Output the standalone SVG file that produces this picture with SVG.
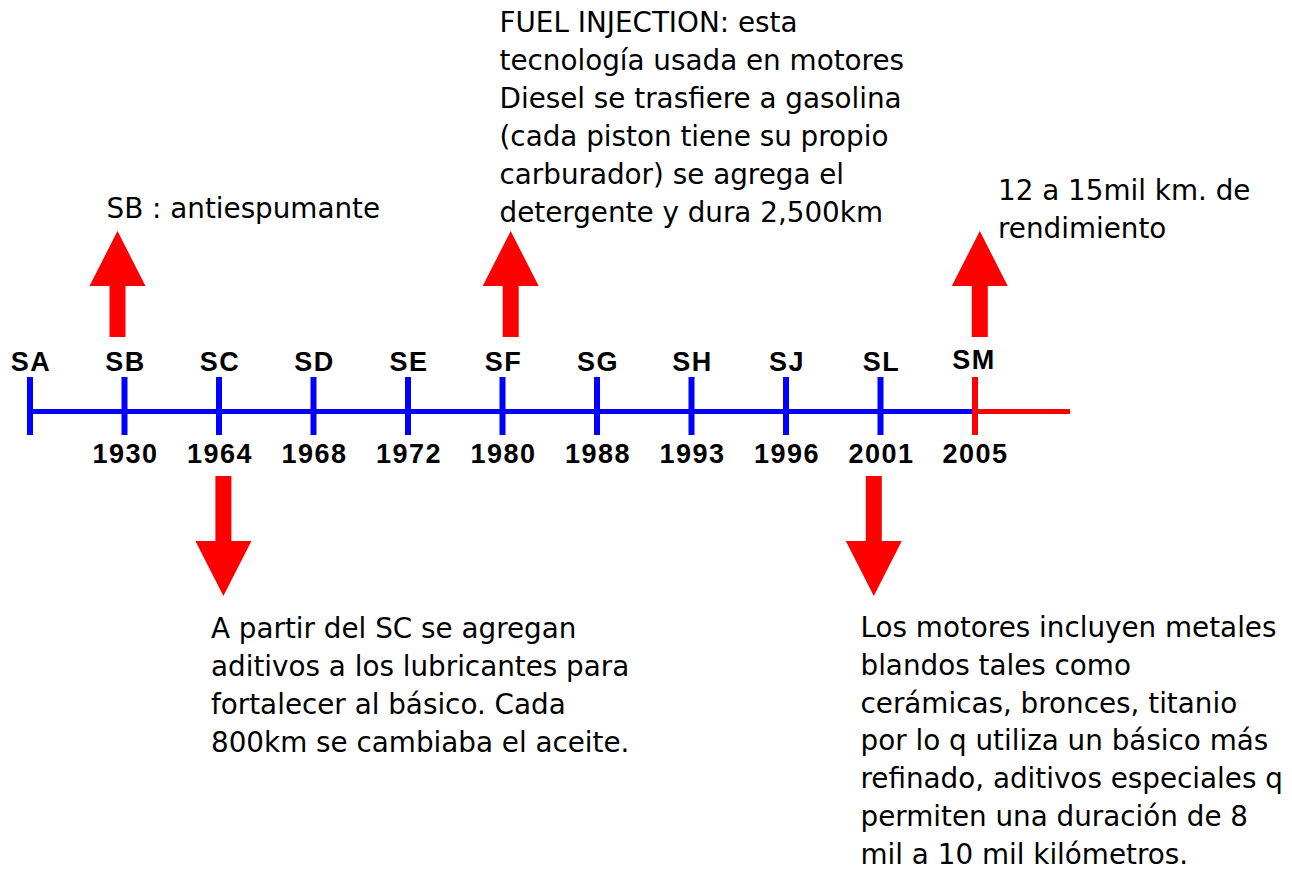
<svg xmlns="http://www.w3.org/2000/svg" xmlns:xlink="http://www.w3.org/1999/xlink" width="1292" height="871" viewBox="0 0 1292 871">
<style>
.lbl{font-family:"Liberation Sans",Arial,sans-serif;font-weight:bold;font-size:27px;fill:#000;text-anchor:middle;letter-spacing:1.5px}
.note{font-family:"DejaVu Sans",Verdana,sans-serif;font-size:27.8px;fill:#000}
.blue{stroke:#0000FF;stroke-width:6;fill:none}
.bl{stroke:#0000FF;stroke-width:5;fill:none}
.red{stroke:#FF0000;stroke-width:6;fill:none}
.rl{stroke:#FF0000;stroke-width:5;fill:none}
.arr{fill:#FF0000}
</style>
<defs>
<polygon id="up" class="arr" points="0,0 28,55 8,55 8,106 -8,106 -8,55 -28,55"/>
<polygon id="down" class="arr" points="-8,0 8,0 8,65 28,65 0,120 -28,65 -8,65"/>
</defs>
<rect width="1292" height="871" fill="#fff"/>
<g id="axis">
<line class="bl" x1="27" y1="411.5" x2="975" y2="411.5"/>
<line class="rl" x1="975" y1="411.5" x2="1070" y2="411.5"/>
</g>
<g id="SA"><line class="blue" x1="30" y1="377" x2="30" y2="435"/><text class="lbl" x="31" y="371">SA</text></g>
<g id="SB"><line class="blue" x1="124.5" y1="377" x2="124.5" y2="435"/><text class="lbl" x="125.5" y="371">SB</text><text class="lbl" x="125.5" y="463">1930</text></g>
<g id="SC"><line class="blue" x1="219" y1="377" x2="219" y2="435"/><text class="lbl" x="220" y="371">SC</text><text class="lbl" x="220" y="463">1964</text></g>
<g id="SD"><line class="blue" x1="313.5" y1="377" x2="313.5" y2="435"/><text class="lbl" x="314.5" y="371">SD</text><text class="lbl" x="314.5" y="463">1968</text></g>
<g id="SE"><line class="blue" x1="408" y1="377" x2="408" y2="435"/><text class="lbl" x="409" y="371">SE</text><text class="lbl" x="409" y="463">1972</text></g>
<g id="SF"><line class="blue" x1="502.5" y1="377" x2="502.5" y2="435"/><text class="lbl" x="503.5" y="371">SF</text><text class="lbl" x="503.5" y="463">1980</text></g>
<g id="SG"><line class="blue" x1="597" y1="377" x2="597" y2="435"/><text class="lbl" x="598" y="371">SG</text><text class="lbl" x="598" y="463">1988</text></g>
<g id="SH"><line class="blue" x1="691.5" y1="377" x2="691.5" y2="435"/><text class="lbl" x="692.5" y="371">SH</text><text class="lbl" x="692.5" y="463">1993</text></g>
<g id="SJ"><line class="blue" x1="786" y1="377" x2="786" y2="435"/><text class="lbl" x="787" y="371">SJ</text><text class="lbl" x="787" y="463">1996</text></g>
<g id="SL"><line class="blue" x1="880.5" y1="377" x2="880.5" y2="435"/><text class="lbl" x="881.5" y="371">SL</text><text class="lbl" x="881.5" y="463">2001</text></g>
<g id="SM"><line class="red" x1="975" y1="377" x2="975" y2="435"/><text class="lbl" x="974" y="369">SM</text><text class="lbl" x="975.5" y="463">2005</text></g>
<g id="connectors">
<use xlink:href="#up" x="117.5" y="231"/>
<use xlink:href="#up" x="510.7" y="231"/>
<use xlink:href="#up" x="979.8" y="231"/>
<use xlink:href="#down" x="223.4" y="476"/>
<use xlink:href="#down" x="873.8" y="476"/>
</g>
<g id="note-SB"><text class="note" x="106.5" y="218">SB : antiespumante</text></g>
<g id="note-SF"><text class="note" x="499.5" y="31.7">FUEL INJECTION: esta</text><text class="note" x="499.5" y="69.7">tecnología usada en motores</text><text class="note" x="499.5" y="107.7">Diesel se trasfiere a gasolina</text><text class="note" x="499.5" y="145.7">(cada piston tiene su propio</text><text class="note" x="499.5" y="183.7">carburador) se agrega el</text><text class="note" x="499.5" y="221.7">detergente y dura 2,500km</text></g>
<g id="note-SM"><text class="note" x="998" y="200">12 a 15mil km. de</text><text class="note" x="998" y="237.5">rendimiento</text></g>
<g id="note-SC"><text class="note" x="211" y="638.3">A partir del SC se agregan</text><text class="note" x="211" y="676.1">aditivos a los lubricantes para</text><text class="note" x="211" y="713.9">fortalecer al básico. Cada</text><text class="note" x="211" y="751.7">800km se cambiaba el aceite.</text></g>
<g id="note-SL"><text class="note" x="860.5" y="637">Los motores incluyen metales</text><text class="note" x="860.5" y="674.8">blandos tales como</text><text class="note" x="860.5" y="712.6">cerámicas, bronces, titanio</text><text class="note" x="860.5" y="750.4">por lo q utiliza un básico más</text><text class="note" x="860.5" y="788.2">refinado, aditivos especiales q</text><text class="note" x="860.5" y="826">permiten una duración de 8</text><text class="note" x="860.5" y="863.8">mil a 10 mil kilómetros.</text></g>
</svg>
